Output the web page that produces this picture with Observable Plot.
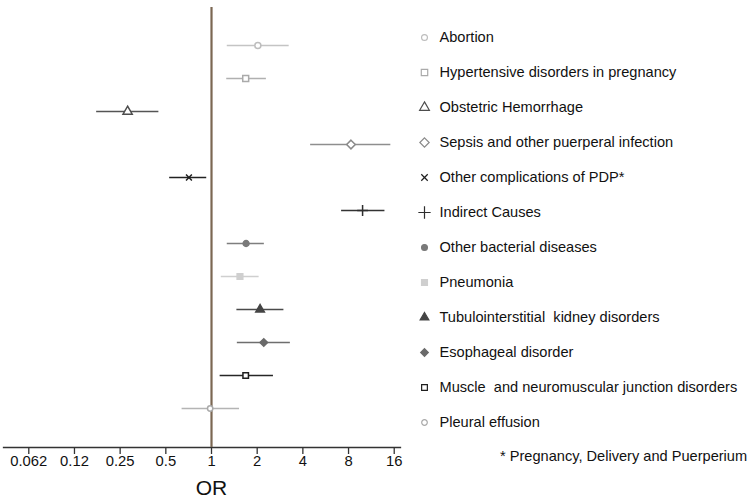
<!DOCTYPE html>
<html>
<head>
<meta charset="utf-8">
<script src="https://cdn.jsdelivr.net/npm/d3@7"></script>
<script src="https://cdn.jsdelivr.net/npm/@observablehq/plot@0.6"></script>
<style>
  html, body { margin: 0; padding: 0; background: #fff; }
  #wrap { position: relative; width: 750px; height: 500px; font-family: "Liberation Sans", Arial, sans-serif; }
  #main { position: absolute; left: 0; top: 0; }
  #legend { position: absolute; left: 410px; top: 0; }
  #note { position: absolute; left: 500px; top: 448px; font-size: 14.6px; color: #111; white-space: nowrap; }
</style>
</head>
<body>
<div id="wrap">
  <div id="main"></div>
  <div id="legend"></div>
  <div id="note">* Pregnancy, Delivery and Puerperium</div>
</div>
<script>
// ---- data ----
const labels = [
  "Abortion",
  "Hypertensive disorders in pregnancy",
  "Obstetric Hemorrhage",
  "Sepsis and other puerperal infection",
  "Other complications of PDP*",
  "Indirect Causes",
  "Other bacterial diseases",
  "Pneumonia",
  "Tubulointerstitial  kidney disorders",
  "Esophageal disorder",
  "Muscle  and neuromuscular junction disorders",
  "Pleural effusion"
];
const orValues = [2.02, 1.68, 0.28, 8.3, 0.71, 9.9, 1.69, 1.54, 2.09, 2.21, 1.68, 0.98];
const ciLow    = [1.27, 1.26, 0.175, 4.5, 0.53, 7.2, 1.27, 1.16, 1.47, 1.48, 1.14, 0.64];
const ciHigh   = [3.25, 2.30, 0.45, 15.2, 0.93, 13.9, 2.23, 2.06, 3.0, 3.31, 2.56, 1.53];
const tickValues = [0.0625, 0.125, 0.25, 0.5, 1, 2, 4, 8, 16];
const tickLabels = ["0.062", "0.12", "0.25", "0.5", "1", "2", "4", "8", "16"];
const refValue = [1];
const axisTitle = "OR";

// ---- styles (kept separate from data) ----
const symbols = ["circle","square","triangle","diamond2","times","plus","circle","square","triangle","diamond2","square","circle"];
const colors  = ["#bdbdbd","#aaaaaa","#4d4d4d","#8a8a8a","#1e1e1e","#2e2e2e","#7a7a7a","#cfcfcf","#444444","#6a6a6a","#1e1e1e","#aaaaaa"];
const lineColors = ["#c4c4c4","#b0b0b0","#555555","#8e8e8e","#222222","#333333","#7e7e7e","#cfcfcf","#4a4a4a","#6e6e6e","#262626","#b4b4b4"];
const filled  = [false,false,false,false,false,false,true,true,true,true,false,false];
const sizes   = [3.6, 4.4, 4.6, 6.0, 3.0, 5.0, 3.4, 4.0, 4.0, 4.6, 3.8, 2.8];
const legendSizes = [2.6, 4.0, 4.0, 5.4, 2.8, 5.0, 2.6, 3.4, 3.2, 3.6, 3.2, 2.4];

const rows = labels.map((label, i) => ({
  label, or: orValues[i], lo: ciLow[i], hi: ciHigh[i],
  symbol: symbols[i], color: colors[i], line: lineColors[i],
  fill: filled[i] ? colors[i] : "white",
  stroke: colors[i], r: sizes[i], lr: legendSizes[i]
}));

const fmt = new Map(tickValues.map((v, i) => [v, tickLabels[i]]));

const main = Plot.plot({
  width: 410,
  height: 500,
  marginLeft: 3,
  marginRight: 10,
  marginTop: 7,
  marginBottom: 53,
  style: { fontFamily: '"Liberation Sans", Arial, sans-serif', fontSize: "14px", color: "#111", background: "white" },
  x: { type: "log", base: 2, domain: [0.04258, 17.6], range: [3, 400] },
  y: { type: "point", domain: labels, range: [40.7, 413], padding: 0, axis: null },
  color: { type: "identity" },
  symbol: { type: "identity" },
  marks: [
    Plot.frame({ anchor: "bottom", stroke: "#333", strokeWidth: 1.3 }),
    Plot.axisX({ ticks: tickValues, tickFormat: d => fmt.get(d), tickSize: 7, tickPadding: 0.5, stroke: "#333", strokeWidth: 1.3, fontSize: 14.8, label: null }),
    Plot.ruleY(rows, { y: "label", x1: "lo", x2: "hi", stroke: "line", strokeWidth: 1.6 }),
    Plot.ruleX(refValue, { stroke: "#7b6752", strokeWidth: 2.2 }),
    Plot.dot(rows, { x: "or", y: "label", symbol: "symbol", fill: "fill", stroke: "stroke", r: "r", strokeWidth: 1.5 }),
    Plot.text(refValue, { x: d => d, text: () => axisTitle, frameAnchor: "bottom", lineAnchor: "middle", dy: 41, fontSize: 21, fill: "#111" })
  ]
});
document.getElementById("main").appendChild(main);

const legend = Plot.plot({
  width: 340,
  height: 445,
  margin: 0,
  style: { fontFamily: '"Liberation Sans", Arial, sans-serif', fontSize: "14px", color: "#111", background: "transparent" },
  y: { type: "point", domain: labels, range: [34.3, 424.7], padding: 0, axis: null },
  color: { type: "identity" },
  symbol: { type: "identity" },
  marks: [
    Plot.dot(rows, { y: "label", frameAnchor: "left", dx: 14, symbol: "symbol", fill: "fill", stroke: "stroke", r: "lr", strokeWidth: 1.2 }),
    Plot.text(rows, { y: "label", text: "label", frameAnchor: "left", dx: 29, textAnchor: "start", fontSize: 14.6, fill: "#111" })
  ]
});
document.getElementById("legend").appendChild(legend);
</script>
</body>
</html>
